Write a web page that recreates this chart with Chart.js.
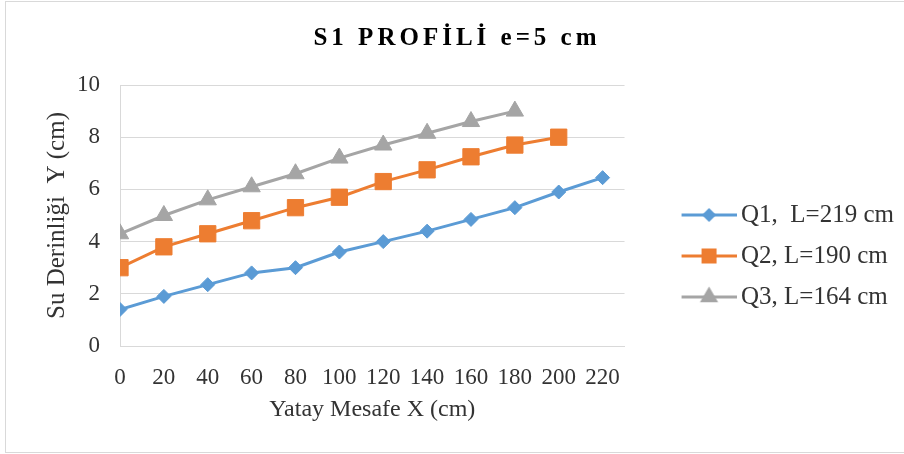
<!DOCTYPE html>
<html>
<head>
<meta charset="utf-8">
<script src="https://cdn.jsdelivr.net/npm/chart.js@4/dist/chart.umd.min.js"></script>
<style>
  html, body { margin: 0; padding: 0; background: #fff; }
  #wrap { width: 904px; height: 454px; }
</style>
</head>
<body>
<div id="wrap"><canvas id="profile-chart" width="904" height="454"></canvas></div>
<script>
"use strict";

// Data
const xValues = [0, 20, 40, 60, 80, 100, 120, 140, 160, 180, 200, 220];
const q1Values = [1.4, 1.9, 2.35, 2.8, 3.0, 3.6, 4.0, 4.4, 4.85, 5.3, 5.9, 6.45];
const q2Values = [3.0, 3.8, 4.3, 4.8, 5.3, 5.7, 6.3, 6.75, 7.25, 7.7, 8.0];
const q3Values = [4.3, 5.0, 5.6, 6.1, 6.6, 7.2, 7.7, 8.15, 8.6, 9.0];
const seriesNames = ["Q1,  L=219 cm", "Q2, L=190 cm", "Q3, L=164 cm"];
const yTicks = [0, 2, 4, 6, 8, 10];

const colors = ["#5B9BD5", "#ED7D31", "#A5A5A5"];
const markers = ["rectRot", "rect", "triangle"];
const markerSizes = [7, 11.5, 10];
const legendMarkerSizes = [5, 8.5, 7.5];

const serif = "'Liberation Serif', 'Times New Roman', serif";
const textColor = "#333333";
const gridColor = "#d9d9d9";

function toPoints(values) {
    return values.map((v, i) => ({ x: xValues[i], y: v }));
}

// small canvas with line + marker, used as legend symbol
function legendSymbol(i) {
    const c = document.createElement("canvas");
    c.width = 104;
    c.height = 22;
    const ctx = c.getContext("2d");
    ctx.strokeStyle = colors[i];
    ctx.lineWidth = 3;
    ctx.beginPath();
    ctx.moveTo(49, 11);
    ctx.lineTo(104, 11);
    ctx.stroke();
    Chart.helpers.drawPoint(ctx, {
        pointStyle: markers[i],
        radius: legendMarkerSizes[i],
        rotation: 0,
        borderWidth: 1
    }, 76.5, 11);
    ctx.fillStyle = colors[i];
    ctx.fill();
    return c;
}

const datasets = [q1Values, q2Values, q3Values].map((vals, i) => ({
    label: seriesNames[i],
    data: toPoints(vals),
    borderColor: colors[i],
    backgroundColor: colors[i],
    borderWidth: 3,
    pointStyle: markers[i],
    pointRadius: markerSizes[i],
    pointHoverRadius: markerSizes[i],
    pointBorderWidth: 1,
    pointBorderColor: colors[i],
    pointBackgroundColor: colors[i],
    tension: 0,
    fill: false
}));

// outer frame + letter spaced title
const frame = {
    id: "frame",
    beforeDraw(chart) {
        const ctx = chart.ctx;
        ctx.save();
        ctx.fillStyle = "#fff";
        ctx.fillRect(0, 0, chart.width, chart.height);
        ctx.strokeStyle = "#d9d9d9";
        ctx.lineWidth = 1;
        ctx.strokeRect(5.5, 1.5, chart.width + 10, chart.height - 3);
        ctx.restore();
        const block = chart.titleBlock;
        if (block && !block._spaced) {
            const orig = block.draw;
            block.draw = function () {
                const c = this.ctx;
                c.save();
                c.letterSpacing = "4px";
                orig.apply(this, arguments);
                c.restore();
            };
            block._spaced = true;
        }
    }
};

const config = {
    type: "line",
    data: { datasets: datasets },
    options: {
        responsive: false,
        animation: false,
        layout: { padding: { top: 24, left: 10, right: 0, bottom: 30 } },
        scales: {
            x: {
                type: "linear",
                min: 0,
                max: 230,
                afterBuildTicks: (axis) => {
                    axis.ticks = xValues.map(v => ({ value: v }));
                },
                afterFit: (scale) => {
                    scale.height = 78;
                },
                grid: { display: false, drawTicks: false },
                border: { display: true, color: gridColor },
                ticks: {
                    color: textColor,
                    font: { family: serif, size: 23 },
                    padding: 18,
                    maxRotation: 0,
                    autoSkip: false
                },
                title: {
                    display: true,
                    text: "Yatay Mesafe X (cm)",
                    color: textColor,
                    font: { family: serif, size: 24 },
                    padding: { top: 0, bottom: 0 }
                }
            },
            y: {
                min: 0,
                max: 10,
                afterBuildTicks: (axis) => {
                    axis.ticks = yTicks.map(v => ({ value: v }));
                },
                afterFit: (scale) => {
                    scale.width = 110;
                },
                grid: { color: gridColor, drawTicks: false },
                border: { display: true, color: gridColor },
                ticks: {
                    color: textColor,
                    font: { family: serif, size: 23 },
                    padding: 20
                },
                title: {
                    display: true,
                    text: "Su Derinliği  Y (cm)",
                    color: textColor,
                    font: { family: serif, size: 25 },
                    padding: { top: 32, bottom: 4 }
                }
            }
        },
        plugins: {
            title: {
                display: true,
                text: "S1 PROFİLİ e=5 cm",
                color: "#000",
                font: { family: serif, size: 25, weight: "bold" },
                padding: { top: 0, bottom: 31 }
            },
            legend: {
                position: "right",
                maxWidth: 282,
                title: {
                    display: true,
                    text: "",
                    font: { size: 10 },
                    padding: { top: 0, bottom: 52 }
                },
                labels: {
                    usePointStyle: true,
                    pointStyleWidth: 88,
                    padding: 16,
                    color: textColor,
                    font: { family: serif, size: 25 },
                    generateLabels: (chart) => chart.data.datasets.map((ds, i) => ({
                        text: ds.label,
                        pointStyle: legendSymbol(i),
                        fillStyle: colors[i],
                        strokeStyle: colors[i],
                        lineWidth: 0,
                        hidden: false,
                        datasetIndex: i,
                        fontColor: textColor
                    }))
                }
            },
            tooltip: { enabled: false }
        }
    },
    plugins: [frame]
};

const myChart = new Chart(document.getElementById("profile-chart"), config);
</script>
</body>
</html>
